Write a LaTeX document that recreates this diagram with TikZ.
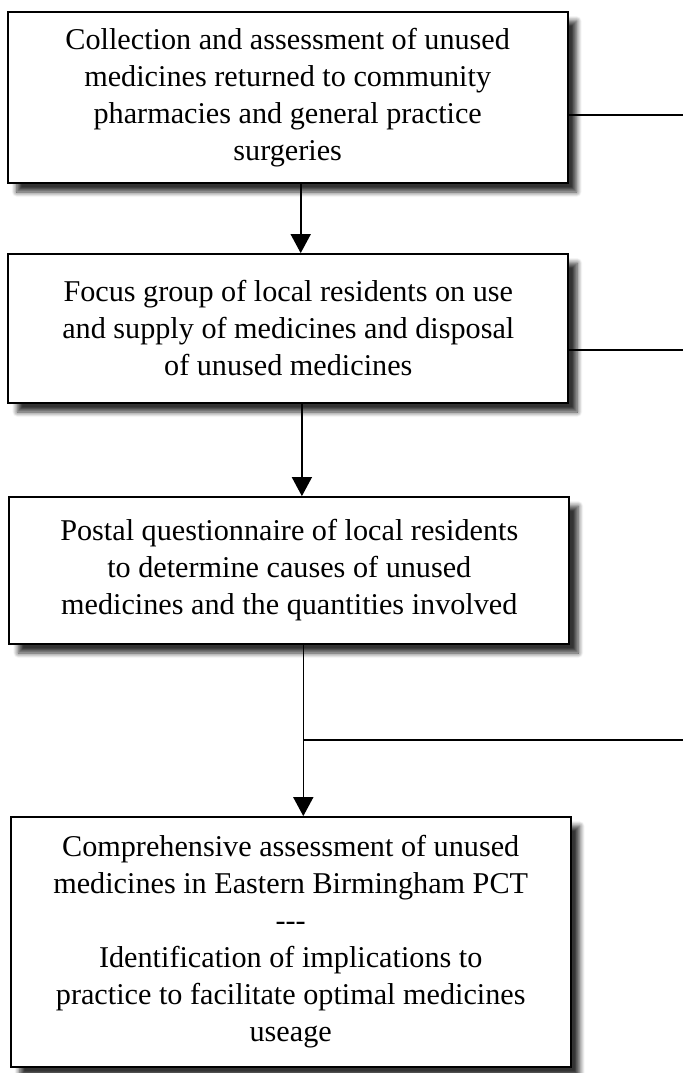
\documentclass[tikz,border=0pt]{standalone}
\usepackage{fontspec}
\setmainfont{Liberation Serif}
\usetikzlibrary{arrows.meta,shadows.blur}
\begin{document}
\begin{tikzpicture}[x=0.5pt,y=-0.5pt,
        stage/.style={draw,line width=0.9pt,fill=white,minimum width=280pt,align=center,inner sep=0pt,
            font=\fontsize{15.1}{18.5}\selectfont,
            blur shadow={shadow xshift=4.5pt,shadow yshift=-4.5pt,shadow blur radius=2.5pt,shadow blur steps=8,shadow opacity=80}},
        flow/.style={-{Triangle[width=10pt,length=9.5pt]},line width=0.8pt},
        link/.style={line width=0.8pt}]
        \useasboundingbox (0,0) rectangle (683,1073);
        \node[stage,minimum height=85.5pt] (collect) at (287.7,97.5) {Collection and assessment of unused\\medicines returned to community\\pharmacies and general practice\\surgeries};
        \node[stage,minimum height=74.5pt] (focus) at (288.3,328.5) {Focus group of local residents on use\\and supply of medicines and disposal\\of unused medicines};
        \node[stage,minimum height=73.5pt] (survey) at (289.3,570.5) {Postal questionnaire of local residents\\to determine causes of unused\\medicines and the quantities involved};
        \node[stage,minimum height=125pt] (assess) at (290.7,942) {Comprehensive assessment of unused\\medicines in Eastern Birmingham PCT\\-{}-{}-\\Identification of implications to\\practice to facilitate optimal medicines\\useage};
        % free ends on the right margin
        \coordinate (out1) at (683,115);
        \coordinate (out2) at (683,350);
        \coordinate (out3) at (683,740);
        \draw[flow] ([xshift=6.5pt]collect.south) -- ([xshift=6.5pt]collect.south |- focus.north);
        \draw[flow] ([xshift=6.8pt]focus.south) -- ([xshift=6.8pt]focus.south |- survey.north);
        \draw[flow] ([xshift=7pt]survey.south) -- ([xshift=7pt]survey.south |- assess.north);
        \draw[link] (collect.east |- out1) -- (out1);
        \draw[link] (focus.east |- out2) -- (out2);
        \draw[link] ([xshift=7pt]survey.south |- out3) -- (out3);
\end{tikzpicture}
\end{document}
